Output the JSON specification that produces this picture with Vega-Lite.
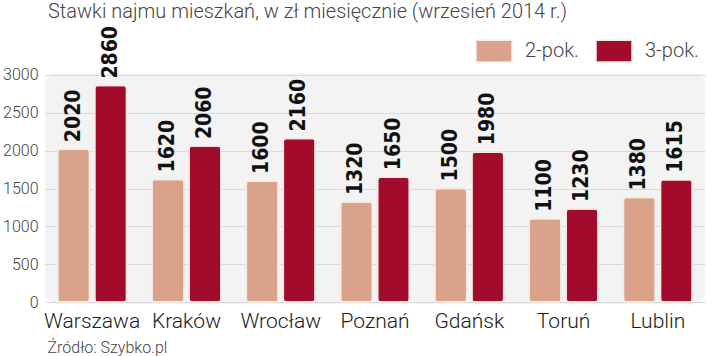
{
  "$schema": "https://vega.github.io/schema/vega-lite/v6.json",
  "autosize": "none",
  "width": 660,
  "height": 231,
  "padding": {"left": 45, "top": 73, "right": 15, "bottom": 52},
  "background": "white",
  "title": {
    "text": "Stawki najmu mieszkań, w zł miesięcznie (wrzesień 2014 r.)",
    "anchor": "start",
    "frame": "group",
    "font": "Roboto",
    "fontWeight": 300,
    "fontSize": 20,
    "color": "#444444",
    "baseline": "alphabetic",
    "dx": 3,
    "dy": 27,
    "offset": 15
  },
  "config": {
    "view": {"fill": "#f3f3f3", "stroke": null, "cornerRadius": 12},
    "font": "Roboto"
  },
  "data": {
    "values": [
      {"miasto": "Warszawa", "typ": "2-pok.", "cena": 2020},
      {"miasto": "Warszawa", "typ": "3-pok.", "cena": 2860},
      {"miasto": "Kraków", "typ": "2-pok.", "cena": 1620},
      {"miasto": "Kraków", "typ": "3-pok.", "cena": 2060},
      {"miasto": "Wrocław", "typ": "2-pok.", "cena": 1600},
      {"miasto": "Wrocław", "typ": "3-pok.", "cena": 2160},
      {"miasto": "Poznań", "typ": "2-pok.", "cena": 1320},
      {"miasto": "Poznań", "typ": "3-pok.", "cena": 1650},
      {"miasto": "Gdańsk", "typ": "2-pok.", "cena": 1500},
      {"miasto": "Gdańsk", "typ": "3-pok.", "cena": 1980},
      {"miasto": "Toruń", "typ": "2-pok.", "cena": 1100},
      {"miasto": "Toruń", "typ": "3-pok.", "cena": 1230},
      {"miasto": "Lublin", "typ": "2-pok.", "cena": 1380},
      {"miasto": "Lublin", "typ": "3-pok.", "cena": 1615}
    ]
  },
  "encoding": {
    "x": {
      "field": "miasto",
      "type": "nominal",
      "sort": null,
      "scale": {"paddingInner": 0.27, "paddingOuter": 0.135},
      "axis": {
        "title": "Źródło: Szybko.pl",
        "titleFont": "Roboto",
        "titleFontWeight": 300,
        "titleFontSize": 16,
        "titleColor": "#444444",
        "titleAnchor": "start",
        "titleAlign": "left",
        "titleBaseline": "alphabetic",
        "titleX": 2,
        "titleY": 48,
        "labelAngle": 0,
        "labelFont": "Roboto",
        "labelFontWeight": 300,
        "labelFontSize": 21,
        "labelColor": "#1a1a1a",
        "labelBaseline": "alphabetic",
        "labelPadding": 23,
        "ticks": false,
        "domain": false,
        "grid": false
      }
    },
    "xOffset": {"field": "typ", "type": "nominal", "scale": {"paddingInner": 0.14}},
    "y": {
      "field": "cena",
      "type": "quantitative",
      "scale": {"domain": [-26, 3026], "nice": false, "zero": false},
      "axis": {
        "title": null,
        "values": [0, 500, 1000, 1500, 2000, 2500, 3000],
        "format": "d",
        "labelFont": "Roboto",
        "labelFontWeight": 300,
        "labelFontSize": 16,
        "labelColor": "#444444",
        "labelPadding": 7,
        "ticks": false,
        "domain": false,
        "gridColor": "#d9d9d9",
        "gridWidth": 1
      }
    }
  },
  "layer": [
    {
      "mark": {"type": "bar", "cornerRadius": 3, "stroke": "#f4ebe7", "strokeWidth": 1.5},
      "encoding": {
        "color": {
          "field": "typ",
          "type": "nominal",
          "scale": {"domain": ["2-pok.", "3-pok."], "range": ["#dba28a", "#a30b2b"]},
          "legend": {
            "title": null,
            "orient": "none",
            "direction": "horizontal",
            "legendX": 430,
            "legendY": -41,
            "symbolType": "M-1,-0.6H1V0.6H-1Z",
            "symbolSize": 1296,
            "symbolStrokeColor": "#eeeeee",
            "symbolStrokeWidth": 1.5,
            "symbolOpacity": 1,
            "labelFont": "Roboto",
            "labelFontWeight": 300,
            "labelFontSize": 20,
            "labelColor": "#444444",
            "labelOffset": 12,
            "columnPadding": 14,
            "padding": 0
          }
        }
      }
    },
    {
      "mark": {
        "type": "text",
        "angle": 270,
        "align": "left",
        "baseline": "middle",
        "dx": 7,
        "font": "DejaVu Sans Condensed",
        "fontWeight": "bold",
        "fontSize": 21,
        "color": "#111111"
      },
      "encoding": {
        "text": {"field": "cena", "type": "quantitative"}
      }
    }
  ]
}
